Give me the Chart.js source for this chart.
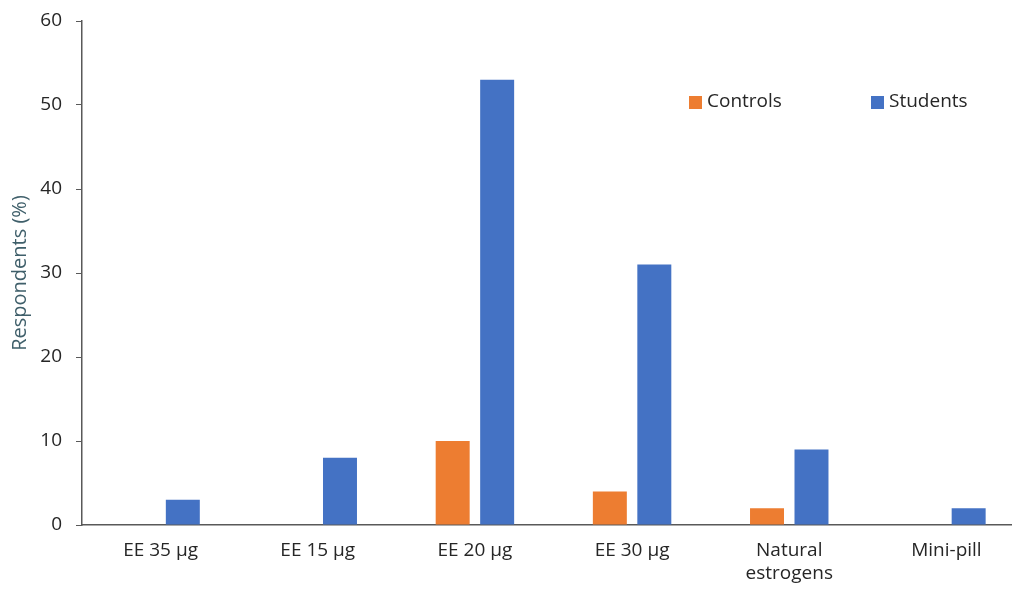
<!DOCTYPE html>
<html>
<head>
<meta charset="utf-8">
<script src="https://cdn.jsdelivr.net/npm/chart.js@4"></script>
<style>
  html, body { margin: 0; padding: 0; background: #fff; overflow: hidden; }
  #wrap { position: relative; width: 1040px; height: 589px; }
</style>
</head>
<body>
<div id="wrap"><canvas id="grafico"></canvas></div>
<script>
const CATEGORIAS = [["EE 35 µg"], ["EE 15 µg"], ["EE 20 µg"], ["EE 30 µg"], ["Natural", "estrogens"], ["Mini-pill"]];
const CONTROLS = [0, 0, 10, 4, 2, 0];
const STUDENTS = [3, 8, 53, 31, 9, 2];
const Y_TICKS = [0, 10, 20, 30, 40, 50, 60];

const FUENTE = "'Open Sans', sans-serif";
const GRIS = '#595959';
const TEXTO = '#262626';

// leyenda dibujada dentro del area del grafico, arriba a la derecha
const leyendaPlugin = {
    id: 'leyendaInterna',
    afterDraw(chart) {
        const ctx = chart.ctx;
        const posX = [689, 871];
        ctx.save();
        ctx.font = `19px ${FUENTE}`;
        ctx.textBaseline = 'middle';
        chart.data.datasets.forEach((ds, i) => {
            ctx.fillStyle = ds.backgroundColor;
            ctx.fillRect(posX[i], 96, 13, 13);
            ctx.fillStyle = TEXTO;
            ctx.fillText(ds.label, posX[i] + 18, 102);
        });
        ctx.restore();
    }
};

new Chart(document.getElementById('grafico'), {
    type: 'bar',
    data: {
        labels: CATEGORIAS,
        datasets: [
            { label: 'Controls', data: CONTROLS, backgroundColor: '#ED7D31' },
            { label: 'Students', data: STUDENTS, backgroundColor: '#4472C4' }
        ]
    },
    options: {
        responsive: true,
        maintainAspectRatio: false,
        animation: false,
        categoryPercentage: 0.566,
        barPercentage: 0.764,
        layout: { padding: { top: 21, right: 15, left: 0, bottom: 0 } },
        plugins: { legend: { display: false }, tooltip: { enabled: false } },
        scales: {
            x: {
                grid: { display: false, drawTicks: false },
                border: { display: true, color: GRIS, width: 1.5 },
                ticks: { color: TEXTO, font: { family: FUENTE, size: 19 }, padding: 14, maxRotation: 0 },
                afterFit: (s) => { s.height = 64; s.paddingLeft = 0; s.paddingRight = 0; }
            },
            y: {
                min: 0, max: 60,
                afterBuildTicks: (s) => { s.ticks = Y_TICKS.map(v => ({ value: v })); },
                grid: { display: true, drawOnChartArea: false, drawTicks: true, tickLength: 6, color: GRIS },
                border: { display: true, color: GRIS, width: 1.5 },
                ticks: { color: TEXTO, font: { family: FUENTE, size: 19 }, padding: 14 },
                title: { display: true, text: 'Respondents (%)', color: '#3f5f6a', font: { family: FUENTE, size: 20 }, padding: { top: 8, bottom: 0 } },
                afterFit: (s) => { s.width = 82; s.paddingTop = 0; s.paddingBottom = 0; }
            }
        }
    },
    plugins: [leyendaPlugin]
});
</script>
</body>
</html>
